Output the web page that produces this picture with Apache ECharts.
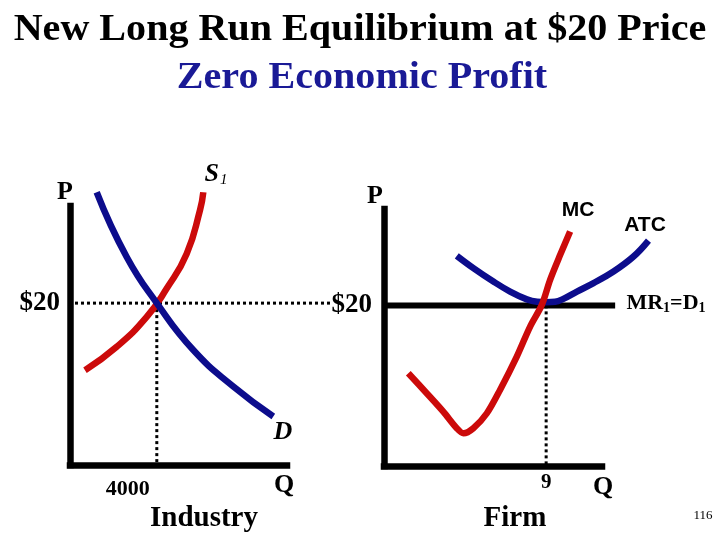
<!DOCTYPE html>
<html>
<head>
<meta charset="utf-8">
<script src="https://cdn.jsdelivr.net/npm/echarts@6/dist/echarts.min.js"></script>
<style>html,body{margin:0;padding:0;background:#fff}#c{width:720px;height:540px}</style>
</head>
<body>
<div id="c"></div>
<script>
// ---- Data (axis units) ----
// Industry: Q (units), P ($)
const industryDemand = [[1230,33.7],[2613,25.7],[4000,20],[5682,14.2],[7525,9.7],[9369,6.0]];
const industrySupply = [[691,11.7],[2152,14.6],[3535,18.3],[4456,21.8],[5378,26.1],[5991,31.5],[6143,33.7]];
const industryPrice = [[230,20],[11982,20]];
const industryEqQ = [[4000,20],[4000,0]];
// Firm: Q (units), P ($)
const firmMC = [[1.35,11.55],[2.37,9.06],[3.29,6.77],[4.04,4.70],[4.41,4.07],[4.96,4.70],[5.71,6.57],[6.44,9.47],[7.37,13.62],[8.11,17.36],[8.76,20.06],[9.22,23.18],[9.78,26.29],[10.33,29.2]];
const firmATC = [[4.04,26.17],[4.96,24.64],[6.07,22.97],[7.0,21.72],[7.93,20.75],[8.5,20.45],[9.0,20.4],[9.5,20.45],[9.9,20.75],[10.71,21.72],[11.63,22.77],[12.74,24.21],[13.85,26.08],[14.68,28.07]];
const firmMR = [[0.05,20],[12.83,20]];
const firmEqQ = [[9,20],[9,0]];
// Tick labels
const industryPriceTicks = [20];
const industryQtyTicks = [4000];
const firmPriceTicks = [20];
const firmQtyTicks = [9];

const RED = '#cc0a0a', BLUE = '#0c0c8c', NAVY = '#1a1a96';
const serif = '"Liberation Serif","Times New Roman",serif';
const sans = '"Liberation Sans",Arial,sans-serif';

// Axis ranges (visible panels) and wider hidden overlays at the same scale
const indQMax = 10000, indW = 217, indOverW = 290;
const firmQMax = 12.1, firmW = 218, firmOverW = 300;

const chart = echarts.init(document.getElementById('c'), null, {renderer: 'canvas'});

const axisLine = {show: true, lineStyle: {color: '#000', width: 6.5, cap: 'square'}};

function txt(text, x, y, size, opts) {
  opts = opts || {};
  return {
    type: 'text', x: x, y: y, scaleX: opts.sx || 1, silent: true,
    style: {
      text: text, fill: opts.color || '#000', align: 'center', verticalAlign: 'middle',
      font: (opts.italic ? 'italic ' : '') + (opts.bold === false ? '' : 'bold ') + size + 'px ' + (opts.family || serif),
      rich: opts.rich
    }
  };
}
const hiddenX = (g, max) => ({gridIndex: g, type: 'value', min: 0, max: max, show: false});
const hiddenY = (g) => ({gridIndex: g, type: 'value', min: 0, max: 32, show: false});

const option = {
  backgroundColor: '#fff',
  animation: false,
  grid: [
    {left: 70, top: 206, width: indW, height: 259},
    {left: 384, top: 209, width: firmW, height: 257},
    {left: 70, top: 206, width: indOverW, height: 259},
    {left: 384, top: 209, width: firmOverW, height: 257}
  ],
  xAxis: [
    {gridIndex: 0, type: 'value', min: 0, max: indQMax, splitLine: {show: false}, axisTick: {show: false},
     axisLine: axisLine,
     axisLabel: {customValues: industryQtyTicks, formatter: v => String(v), color: '#000', fontFamily: serif, fontWeight: 'bold', fontSize: 22, margin: 13, align: 'right', padding: [0, 7, 0, 0]}},
    {gridIndex: 1, type: 'value', min: 0, max: firmQMax, splitLine: {show: false}, axisTick: {show: false},
     axisLine: axisLine,
     axisLabel: {customValues: firmQtyTicks, formatter: v => String(v), color: '#000', fontFamily: serif, fontWeight: 'bold', fontSize: 21, margin: 6}},
    hiddenX(2, indQMax * indOverW / indW),
    hiddenX(3, firmQMax * firmOverW / firmW)
  ],
  yAxis: [
    {gridIndex: 0, type: 'value', min: 0, max: 32, splitLine: {show: false}, axisTick: {show: false},
     axisLine: axisLine,
     axisLabel: {customValues: industryPriceTicks, formatter: v => '$' + v, color: '#000', fontFamily: serif, fontWeight: 'bold', fontSize: 27, margin: 10}},
    {gridIndex: 1, type: 'value', min: 0, max: 32, splitLine: {show: false}, axisTick: {show: false},
     axisLine: axisLine,
     axisLabel: {customValues: firmPriceTicks, formatter: v => '$' + v, color: '#000', fontFamily: serif, fontWeight: 'bold', fontSize: 27, margin: 12, padding: [0, 0, 4, 0]}},
    hiddenY(2),
    hiddenY(3)
  ],
  series: [
    {type: 'line', xAxisIndex: 2, yAxisIndex: 2, data: industryPrice, showSymbol: false, clip: false,
     lineStyle: {color: '#000', width: 3, type: [3, 3]}, z: 2},
    {type: 'line', xAxisIndex: 0, yAxisIndex: 0, data: industryEqQ, showSymbol: false, clip: false,
     lineStyle: {color: '#000', width: 3, type: [3, 3]}, z: 2},
    {type: 'line', xAxisIndex: 0, yAxisIndex: 0, data: industrySupply, showSymbol: false, clip: false, smooth: 0.5,
     lineStyle: {color: RED, width: 6.5}, z: 3},
    {type: 'line', xAxisIndex: 0, yAxisIndex: 0, data: industryDemand, showSymbol: false, clip: false, smooth: 0.5,
     lineStyle: {color: BLUE, width: 6.5}, z: 4},
    {type: 'line', xAxisIndex: 1, yAxisIndex: 1, data: firmEqQ, showSymbol: false, clip: false,
     lineStyle: {color: '#000', width: 3, type: [3, 3]}, z: 2},
    {type: 'line', xAxisIndex: 3, yAxisIndex: 3, data: firmMR, showSymbol: false, clip: false,
     lineStyle: {color: '#000', width: 6}, z: 2},
    {type: 'line', xAxisIndex: 3, yAxisIndex: 3, data: firmATC, showSymbol: false, clip: false, smooth: 0.4,
     lineStyle: {color: BLUE, width: 6.5}, z: 3},
    {type: 'line', xAxisIndex: 1, yAxisIndex: 1, data: firmMC, showSymbol: false, clip: false, smooth: 0.3,
     lineStyle: {color: RED, width: 6.5}, z: 4}
  ],
  graphic: [
    txt('New Long Run Equilibrium at $20 Price', 360, 30, 38, {sx: 1.055}),
    txt('Zero Economic Profit', 362, 78, 38, {color: NAVY, sx: 1.055}),
    txt('P', 65, 192, 26),
    txt('{s|S}{sub|1}', 216, 174, 26, {rich: {
      s: {font: 'italic bold 26px ' + serif, fill: '#000'},
      sub: {font: 'italic 15px ' + serif, fill: '#000', padding: [12, 0, 0, 1]}
    }}),
    txt('D', 283, 432, 26, {italic: true}),
    txt('Q', 284, 485, 26),
    txt('Industry', 204, 519, 29),
    txt('P', 375, 196, 26),
    txt('MC', 578, 210, 21, {family: sans}),
    txt('ATC', 645, 225, 21, {family: sans}),
    txt('{m|MR}{sub|1}{m|=D}{sub|1}', 666, 303, 22, {rich: {
      m: {font: 'bold 22px ' + serif, fill: '#000'},
      sub: {font: 'bold 14px ' + serif, fill: '#000', padding: [10, 0, 0, 0]}
    }}),
    txt('Q', 603, 487, 26),
    txt('Firm', 515, 519, 29),
    txt('116', 703, 516, 13, {bold: false})
  ]
};
chart.setOption(option);
</script>
</body>
</html>
